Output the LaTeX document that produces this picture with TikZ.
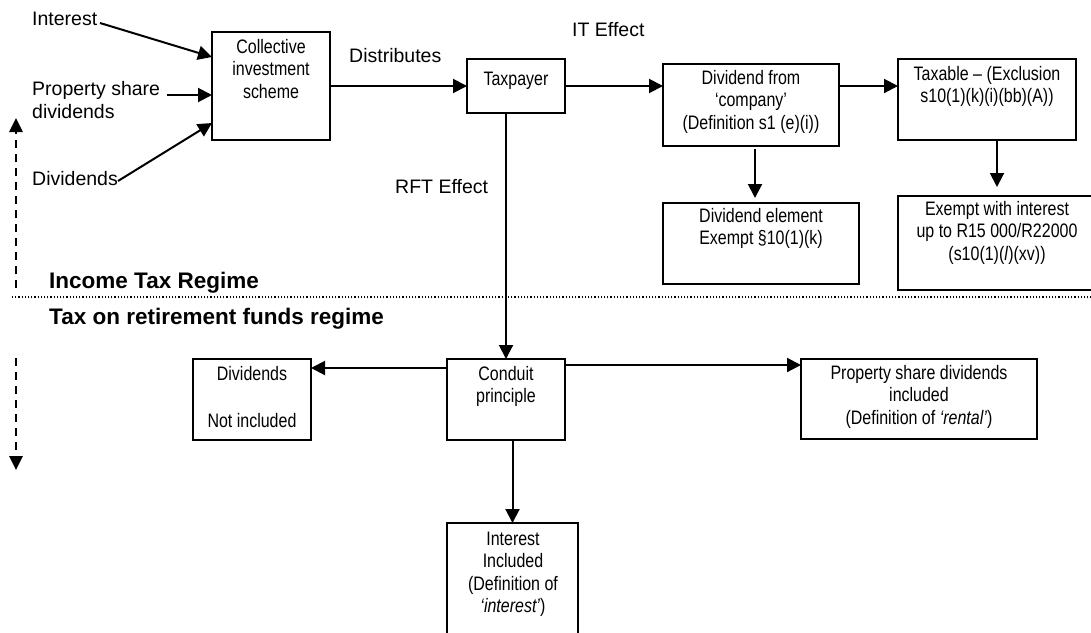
\documentclass[tikz,border=0pt]{standalone}
\usepackage{fontspec}
\setmainfont{Liberation Sans}
\newfontfamily\narrowfont{Liberation Sans}[FakeStretch=0.82]
\usetikzlibrary{arrows.meta}
\begin{document}
\begin{tikzpicture}[x=1pt,y=-1pt,
  box/.style={draw,line width=2pt,minimum width=#1,inner sep=0pt,outer sep=0pt},
  btext/.style={font=\narrowfont\fontsize{19.5pt}{22.5pt}\selectfont,align=center,anchor=base,inner sep=0pt},
  ltext/.style={font=\fontsize{19.5pt}{22.5pt}\selectfont,align=left,anchor=base west,inner sep=0pt},
  htext/.style={font=\bfseries\fontsize{22.5pt}{26pt}\selectfont,anchor=base west,inner sep=0pt},
  arr/.style={line width=2pt,-{Triangle[length=14pt,width=14pt]}},
  dasharr/.style={line width=2.6pt,dash pattern=on 8pt off 6pt,-{Triangle[length=14pt,width=13pt]}},
  sep/.style={line width=1.2pt,dash pattern=on 1.2pt off 2pt}
]
\useasboundingbox (0,0) rectangle (1091,632);

% boxes
\node[box=118pt,minimum height=108pt] (cis) at (271,86) {};
\node[box=98pt,minimum height=54pt] (tp) at (516,86) {};
\node[box=176pt,minimum height=82pt] (divco) at (751,105) {};
\node[box=178pt,minimum height=81pt] (taxable) at (987,99.5) {};
\node[box=196pt,minimum height=81pt] (divel) at (761,243.5) {};
\node[box=198pt,minimum height=94pt] (exempt) at (997,243) {};
\node[box=118pt,minimum height=81pt] (dni) at (252,399.5) {};
\node[box=118pt,minimum height=81pt] (cond) at (506,399.5) {};
\node[box=236pt,minimum height=80pt] (prop) at (919,399) {};
\node[box=131pt,minimum height=122pt] (intr) at (512.5,584) {};

% box texts (anchor base = baseline of the last line)
\node[btext] (tcis) at (271,98) {Collective\\investment\\scheme};
\node[btext] (ttp) at (516,85) {Taxpayer};
\node[btext] (tdivco) at (751,129) {Dividend from\\‘company’\\(Definition s1 (e)(i))};
\node[btext] (ttaxable) at (987,102.5) {Taxable – (Exclusion\\s10(1)(k)(i)(bb)(A))};
\node[btext] (tdivel) at (761,244.5) {Dividend element\\Exempt §10(1)(k)};
\node[btext] (texempt) at (997,260) {Exempt with interest\\up to R15 000/R22000\\(s10(1)(\textit{l})(xv))};
\node[btext] (tdni) at (252,427) {Dividends\\[24pt]Not included};
\node[btext] (tcond) at (506,402.5) {Conduit\\principle};
\node[btext] (tprop) at (919,424) {Property share dividends\\included\\(Definition of \textit{‘rental’})};
\node[btext] (tintr) at (513,612.5) {Interest\\Included\\(Definition of\\\textit{‘interest’})};

% free labels
\node[ltext] (lint) at (32,25) {Interest};
\node[ltext] (lprop) at (32,118) {Property share\\dividends};
\node[ltext] (ldiv) at (32,185) {Dividends};
\node[ltext] (ldist) at (349,62) {Distributes};
\node[ltext] (lit) at (572,36) {IT Effect};
\node[ltext] (lrft) at (395,193) {RFT Effect};
\node[htext] (litr) at (49,288) {Income Tax Regime};
\node[htext] (lrfr) at (49,324) {Tax on retirement funds regime};

% input arrows
\coordinate (cint) at (100,23);
\coordinate (cprop) at (167,95);
\coordinate (cdiv) at (118,181);
\draw[arr] (cint) -- ([yshift=29pt]cis.west);
\draw[arr] (cprop) -- ([yshift=-9pt]cis.west);
\draw[arr] (cdiv) -- ([yshift=-37pt]cis.west);

% flow arrows
\draw[arr] (cis.east |- tp.west) -- (tp.west);
\draw[arr] (tp.east) -- (divco.west |- tp.east);
\draw[arr] (divco.east |- tp.east) -- (taxable.west |- tp.east);
\draw[arr,shorten <=3pt,shorten >=5pt] ([xshift=4pt]divco.south) -- ([xshift=4pt]divco.south |- divel.north);
\draw[arr,shorten >=9pt] (exempt.north |- taxable.south) -- (exempt.north);
\draw[arr] (cond.north |- tp.south) -- (cond.north);
\draw[arr] ([yshift=-9pt]cond.north west) -- ([yshift=-9pt]dni.north east);
\draw[arr] ([yshift=-6pt]cond.north east) -- ([yshift=-6pt]prop.north west);
\draw[arr] (intr.north |- cond.south) -- (intr.north);

% separator and regime arrows
\coordinate (sepl) at (12,297);
\coordinate (sepr) at (1091,297);
\draw[sep] (sepl) -- (sepr);
\coordinate (up0) at (16,288);
\coordinate (up1) at (16,118);
\coordinate (dn0) at (16,358);
\coordinate (dn1) at (16,470);
\draw[dasharr] (up0) -- (up1);
\draw[dasharr] (dn0) -- (dn1);
\end{tikzpicture}
\end{document}
